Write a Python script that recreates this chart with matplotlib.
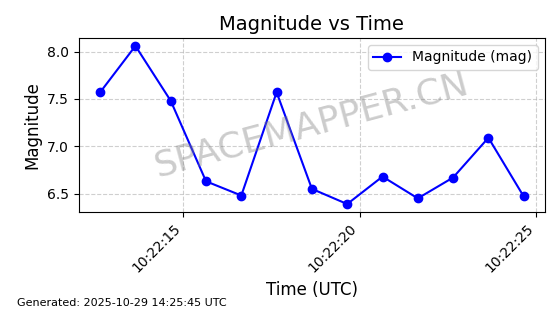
import matplotlib
matplotlib.use('Agg')
import matplotlib.pyplot as plt
import matplotlib.dates as mdates
import pandas as pd

start = pd.Timestamp('2025-10-29 10:22:12.650')
offsets_s = [0, 1, 2, 3, 4, 5, 6, 7, 8, 9, 10, 11, 12]
magnitudes = [7.57, 8.06, 7.48, 6.63, 6.48, 7.57, 6.55, 6.39, 6.68, 6.45, 6.67, 7.09, 6.47]
times = [start + pd.Timedelta(seconds=s) for s in offsets_s]

fig, ax = plt.subplots(figsize=(5.6, 3.14), dpi=100)
ax.plot(times, magnitudes, 'o-', color='blue', label='Magnitude (mag)')
ax.set_title('Magnitude vs Time', fontsize=14)
ax.set_xlabel('Time (UTC)', fontsize=12)
ax.set_ylabel('Magnitude', fontsize=12)
ax.grid(True, linestyle='--', alpha=0.6)
ax.legend(loc='upper right')
ax.xaxis.set_major_formatter(mdates.DateFormatter('%H:%M:%S'))
plt.setp(ax.get_xticklabels(), rotation=45, ha='right')

ax.text(0.5, 0.5, 'SPACEMAPPER.CN', transform=ax.transAxes, fontsize=26,
        color='gray', alpha=0.4, rotation=15, ha='center', va='center')

plt.tight_layout()
fig.subplots_adjust(left=0.141, right=0.973, top=0.879, bottom=0.325)
fig.text(0.03, 0.025, 'Generated: 2025-10-29 14:25:45 UTC', fontsize=8)
fig.savefig('out.png', dpi=100)
